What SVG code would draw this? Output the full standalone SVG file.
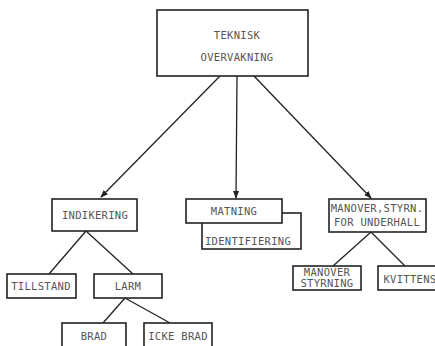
<svg xmlns="http://www.w3.org/2000/svg" width="435" height="346" viewBox="0 0 435 346">
<defs>
<marker id="ah" markerWidth="8" markerHeight="8" refX="7" refY="4" orient="auto" markerUnits="userSpaceOnUse">
<path d="M0,1 L8,4 L0,7 Z" fill="#222"/>
</marker>
<style>
.box{fill:#fff;stroke:#222;stroke-width:1.6}
.t{font-family:"DejaVu Sans Mono","Liberation Mono",monospace;font-size:10.5px;fill:#555;text-anchor:middle;letter-spacing:0.3px}
.c{stroke:#222;stroke-width:1.3;fill:none}
</style>
</defs>
<rect width="435" height="346" fill="#fff"/>
<g id="connectors">
<line class="c" x1="220" y1="76" x2="101" y2="197" marker-end="url(#ah)"/>
<line class="c" x1="237" y1="76" x2="236" y2="198" marker-end="url(#ah)"/>
<line class="c" x1="254" y1="76" x2="371" y2="198" marker-end="url(#ah)"/>
<line class="c" x1="86" y1="231" x2="49" y2="274"/>
<line class="c" x1="86" y1="231" x2="133" y2="274"/>
<line class="c" x1="125" y1="298" x2="103" y2="323"/>
<line class="c" x1="125" y1="298" x2="170" y2="323"/>
<line class="c" x1="371" y1="232" x2="333" y2="266"/>
<line class="c" x1="371" y1="232" x2="405" y2="266"/>
</g>
<g id="teknisk">
<rect class="box" x="157" y="10" width="151" height="66"/>
<text class="t" x="237" y="39">TEKNISK</text>
<text class="t" x="237" y="61">OVERVAKNING</text>
</g>
<g id="indikering">
<rect class="box" x="52" y="199" width="85" height="32"/>
<text class="t" x="95" y="219">INDIKERING</text>
</g>
<g id="identifiering">
<rect class="box" x="202" y="213" width="99" height="36"/>
<text class="t" x="248" y="245">IDENTIFIERING</text>
</g>
<g id="matning">
<rect class="box" x="186" y="199" width="96" height="24"/>
<text class="t" x="234" y="215">MATNING</text>
</g>
<g id="manover">
<rect class="box" x="329" y="199" width="97" height="33"/>
<text class="t" x="377" y="212">MANOVER,STYRN.</text>
<text class="t" x="377" y="226">FOR UNDERHALL</text>
</g>
<g id="tillstand">
<rect class="box" x="7" y="274" width="69" height="24"/>
<text class="t" x="41" y="290">TILLSTAND</text>
</g>
<g id="larm">
<rect class="box" x="94" y="274" width="68" height="24"/>
<text class="t" x="128" y="290">LARM</text>
</g>
<g id="brad">
<rect class="box" x="62" y="323" width="64" height="30"/>
<text class="t" x="94" y="340">BRAD</text>
</g>
<g id="ickebrad">
<rect class="box" x="144" y="323" width="68" height="30"/>
<text class="t" x="178" y="340">ICKE BRAD</text>
</g>
<g id="manoverstyrning">
<rect class="box" x="293" y="266" width="68" height="24"/>
<text class="t" x="327" y="276">MANOVER</text>
<text class="t" x="327" y="287">STYRNING</text>
</g>
<g id="kvittens">
<rect class="box" x="378" y="266" width="70" height="24"/>
<text class="t" x="410" y="283">KVITTENS</text>
</g>
</svg>
